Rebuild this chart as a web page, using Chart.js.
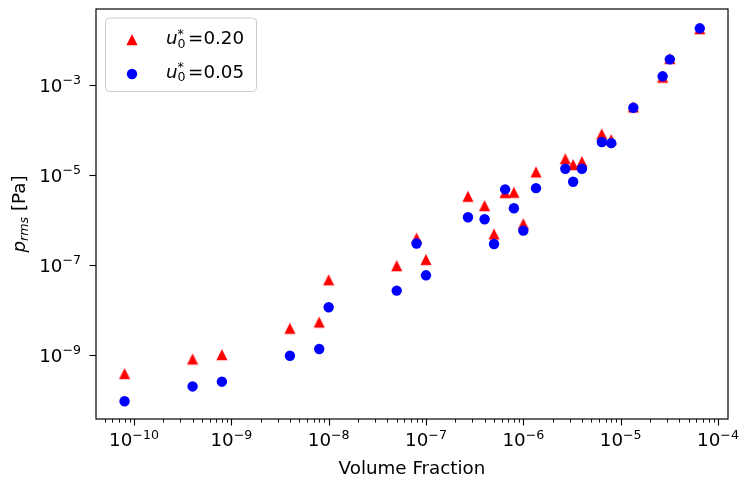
<!DOCTYPE html>
<html><head><meta charset="utf-8">
<script src="https://cdn.jsdelivr.net/npm/chart.js@4/dist/chart.umd.min.js"></script>
<style>html,body{margin:0;padding:0;background:#fff;}canvas{display:block}</style>
</head><body>
<canvas id="c" width="742" height="484"></canvas>
<script>
// ---- data ----
const volumeFraction = [8e-11, 4e-10, 8e-10, 4e-9, 8e-9, 1e-8, 5e-8, 8e-8, 1e-7, 2.7e-7, 4e-7, 5e-7, 6.5e-7, 8e-7, 1e-6, 1.35e-6, 2.7e-6, 3.25e-6, 4e-6, 6.4e-6, 8e-6, 1.35e-5, 2.7e-5, 3.2e-5, 6.5e-5];
const prmsU020 = [3.8e-10, 8.0e-10, 1.0e-9, 3.85e-9, 5.3e-9, 4.6e-8, 9.5e-8, 3.9e-7, 1.3e-7, 3.3e-6, 2.05e-6, 4.8e-7, 4.0e-6, 4.05e-6, 8.1e-7, 1.15e-5, 2.25e-5, 1.67e-5, 1.95e-5, 8.0e-5, 6.0e-5, 3.2e-4, 1.46e-3, 3.8e-3, 1.75e-2];
const prmsU005 = [9.35e-11, 2.0e-10, 2.55e-10, 9.6e-10, 1.36e-9, 1.15e-8, 2.7e-8, 3.0e-7, 5.9e-8, 1.15e-6, 1.04e-6, 2.93e-7, 4.8e-6, 1.82e-6, 5.8e-7, 5.1e-6, 1.38e-5, 7.1e-6, 1.38e-5, 5.4e-5, 5.1e-5, 3.13e-4, 1.56e-3, 3.72e-3, 1.82e-2];
const seriesValues = ['0.20', '0.05'];
const xTickExponents = [-10, -9, -8, -7, -6, -5, -4];
const yTickExponents = [-9, -7, -5, -3];
const xRange = [4.07e-11, 1.267e-4];
const yRange = [3.78e-11, 4.89e-2];
const xAxisTitle = 'Volume Fraction';

// ---- styling ----
const FONT = "'DejaVu Sans', sans-serif";
const FS = 18.3, SUP = 12.6, RAISE = 7.3;
const RED = '#ff0000', BLUE = '#0000ff';

function triangleMarker(color) {
  const c = document.createElement('canvas');
  c.width = 14; c.height = 14;
  const g = c.getContext('2d');
  const h = 4.6;
  g.beginPath();
  g.moveTo(7, 7 - h); g.lineTo(7 + h, 7 + h); g.lineTo(7 - h, 7 + h); g.closePath();
  g.fillStyle = color; g.fill();
  g.lineWidth = 1.2; g.strokeStyle = color; g.lineJoin = 'miter'; g.stroke();
  return c;
}
const triImg = triangleMarker(RED);

const xMajor = xTickExponents.map(e => Math.pow(10, e));
const xMinor = [];
for (let e = -11; e <= -4; e++) for (let m = 2; m <= 9; m++) {
  const v = m * Math.pow(10, e);
  if (v > xRange[0] && v < xRange[1]) xMinor.push(v);
}
const yMajor = yTickExponents.map(e => Math.pow(10, e));

function drawPow(ctx, exp, x, baseline, align) {
  const base = '10', sup = '\u2212' + Math.abs(exp);
  ctx.font = FS + 'px ' + FONT; const wb = ctx.measureText(base).width;
  ctx.font = SUP + 'px ' + FONT; const ws = ctx.measureText(sup).width;
  const total = wb + ws;
  const x0 = align === 'center' ? x - total / 2 : x - total;
  ctx.textAlign = 'left'; ctx.textBaseline = 'alphabetic';
  ctx.font = FS + 'px ' + FONT; ctx.fillText(base, x0, baseline);
  ctx.font = SUP + 'px ' + FONT; ctx.fillText(sup, x0 + wb, baseline - RAISE);
}

function drawLegendText(ctx, val, x, baseline) {
  ctx.textAlign = 'left'; ctx.textBaseline = 'alphabetic'; ctx.fillStyle = '#000';
  ctx.font = 'italic ' + FS + 'px ' + FONT;
  ctx.fillText('u', x, baseline);
  const wu = ctx.measureText('u').width;
  ctx.font = SUP + 'px ' + FONT;
  ctx.fillText('0', x + wu, baseline + 3.7);
  ctx.fillText('*', x + wu, baseline - 6.5);
  const ws = ctx.measureText('0').width;
  ctx.font = FS + 'px ' + FONT;
  ctx.fillText('=' + val, x + wu + ws + 2.5, baseline);
}

const decorPlugin = {
  id: 'decor',
  afterDraw(chart) {
    const ctx = chart.ctx, a = chart.chartArea;
    const xs = chart.scales.x, ys = chart.scales.y;
    ctx.save();
    // frame
    ctx.strokeStyle = '#000'; ctx.lineWidth = 1.2;
    ctx.strokeRect(a.left, a.top, a.right - a.left, a.bottom - a.top);
    // x ticks
    ctx.lineWidth = 1.1;
    xMajor.forEach(v => { const px = Math.round(xs.getPixelForValue(v)) + 0.5;
      ctx.beginPath(); ctx.moveTo(px, a.bottom); ctx.lineTo(px, a.bottom + 6.5); ctx.stroke(); });
    ctx.lineWidth = 0.9;
    xMinor.forEach(v => { const px = Math.round(xs.getPixelForValue(v)) + 0.5;
      ctx.beginPath(); ctx.moveTo(px, a.bottom); ctx.lineTo(px, a.bottom + 3.7); ctx.stroke(); });
    ctx.lineWidth = 1.1;
    yMajor.forEach(v => { const py = Math.round(ys.getPixelForValue(v)) + 0.5;
      ctx.beginPath(); ctx.moveTo(a.left, py); ctx.lineTo(a.left - 6.5, py); ctx.stroke(); });
    // tick labels
    ctx.fillStyle = '#000';
    xTickExponents.forEach((e, i) => drawPow(ctx, e, xs.getPixelForValue(xMajor[i]), a.bottom + 27, 'center'));
    yTickExponents.forEach((e, i) => drawPow(ctx, e, a.left - 15, ys.getPixelForValue(yMajor[i]) + 6.7, 'right'));
    // x title
    ctx.font = FS + 'px ' + FONT; ctx.textAlign = 'center'; ctx.textBaseline = 'alphabetic';
    ctx.fillText(xAxisTitle, (a.left + a.right) / 2, 474);
    // y title (rotated)
    ctx.save();
    ctx.translate(24.5, (a.top + a.bottom) / 2);
    ctx.rotate(-Math.PI / 2);
    ctx.font = 'italic ' + FS + 'px ' + FONT; const wp = ctx.measureText('p').width;
    ctx.font = 'italic ' + SUP + 'px ' + FONT; const wr = ctx.measureText('rms').width;
    ctx.font = FS + 'px ' + FONT; const wt = ctx.measureText(' [Pa]').width;
    const tot = wp + wr + wt; let x0 = -tot / 2;
    ctx.textAlign = 'left';
    ctx.font = 'italic ' + FS + 'px ' + FONT; ctx.fillText('p', x0, 0);
    ctx.font = 'italic ' + SUP + 'px ' + FONT; ctx.fillText('rms', x0 + wp, 3.7);
    ctx.font = FS + 'px ' + FONT; ctx.fillText(' [Pa]', x0 + wp + wr, 0);
    ctx.restore();
    // legend
    const lx = 105.5, ly = 18, lw = 151, lh = 73.5, r = 4;
    ctx.beginPath();
    ctx.moveTo(lx + r, ly); ctx.lineTo(lx + lw - r, ly); ctx.arcTo(lx + lw, ly, lx + lw, ly + r, r);
    ctx.lineTo(lx + lw, ly + lh - r); ctx.arcTo(lx + lw, ly + lh, lx + lw - r, ly + lh, r);
    ctx.lineTo(lx + r, ly + lh); ctx.arcTo(lx, ly + lh, lx, ly + lh - r, r);
    ctx.lineTo(lx, ly + r); ctx.arcTo(lx, ly, lx + r, ly, r); ctx.closePath();
    ctx.fillStyle = 'rgba(255,255,255,0.8)'; ctx.fill();
    ctx.strokeStyle = '#cccccc'; ctx.lineWidth = 1; ctx.stroke();
    ctx.drawImage(triImg, 132 - 7, 40 - 7);
    ctx.beginPath(); ctx.arc(132, 74, 5.2, 0, Math.PI * 2); ctx.fillStyle = BLUE; ctx.fill();
    drawLegendText(ctx, seriesValues[0], 166, 44);
    drawLegendText(ctx, seriesValues[1], 166, 77.5);
    ctx.restore();
  }
};

new Chart(document.getElementById('c').getContext('2d'), {
  type: 'scatter',
  data: {
    datasets: [
      { label: 'u0*=' + seriesValues[0], data: volumeFraction.map((x, i) => ({ x: x, y: prmsU020[i] })),
        pointStyle: triImg, pointRadius: 6, backgroundColor: RED, borderColor: RED, order: 1 },
      { label: 'u0*=' + seriesValues[1], data: volumeFraction.map((x, i) => ({ x: x, y: prmsU005[i] })),
        pointStyle: 'circle', pointRadius: 5.2, borderWidth: 0, backgroundColor: BLUE, borderColor: BLUE, order: 0 }
    ]
  },
  options: {
    responsive: false, animation: false, devicePixelRatio: 1,
    layout: { padding: { left: 0, top: 9, right: 14, bottom: 0 } },
    plugins: { legend: { display: false }, tooltip: { enabled: false } },
    scales: {
      x: { type: 'logarithmic', min: xRange[0], max: xRange[1],
        grid: { display: false, drawTicks: false }, border: { display: false }, ticks: { display: false },
        afterBuildTicks(s) { s.ticks = xMajor.map(v => ({ value: v })); },
        afterFit(s) { s.height = 65; } },
      y: { type: 'logarithmic', min: yRange[0], max: yRange[1],
        grid: { display: false, drawTicks: false }, border: { display: false }, ticks: { display: false },
        afterBuildTicks(s) { s.ticks = yMajor.map(v => ({ value: v })); },
        afterFit(s) { s.width = 96; } }
    }
  },
  plugins: [decorPlugin]
});
</script>
</body></html>
